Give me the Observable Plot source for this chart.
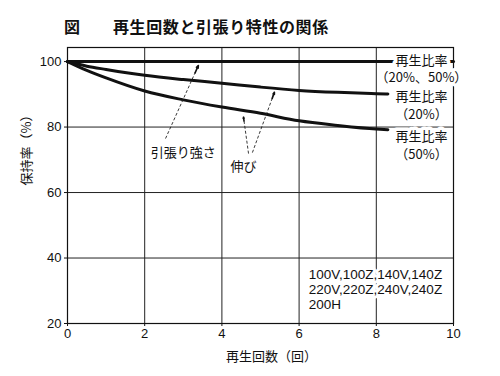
<!DOCTYPE html>
<html>
<head>
<meta charset="utf-8">
<script src="https://cdn.jsdelivr.net/npm/d3@7"></script>
<script src="https://cdn.jsdelivr.net/npm/@observablehq/plot@0.6"></script>
<style>
  html, body { margin: 0; padding: 0; background: #fff; }
  #wrap { position: relative; width: 500px; height: 376px; overflow: hidden; }
  #title { position: absolute; left: 0; top: 0; height: 40px; width: 500px;
           font-family: "Noto Sans CJK JP", sans-serif; font-weight: bold; font-size: 16px; color: #111; }
  #title .fig { position: absolute; left: 64px; top: 14px; }
  #title .txt { position: absolute; left: 113px; top: 14px; letter-spacing: 0.6px; }
  #chart { position: absolute; left: 0; top: 40px; }
</style>
</head>
<body>
<div id="wrap">
  <div id="title"><span class="fig">図</span><span class="txt">再生回数と引張り特性の関係</span></div>
  <div id="chart"></div>
</div>
<script>
// ---- data ----
const cycles   = [0, 0.5, 1, 2, 3, 4, 5, 6, 7, 8, 8.3];
const elong20  = [100, 98.6, 97.6, 95.8, 94.5, 93.4, 92.2, 91.2, 90.6, 90.2, 90.1];
const elong50  = [100, 97.3, 95.0, 91.0, 88.3, 86.1, 84.2, 81.9, 80.5, 79.4, 79.2];
const tensileX = [0, 10];
const tensileY = [100, 100];
const xTicks = [0, 2, 4, 6, 8, 10];
const yTicks = [20, 40, 60, 80, 100];

const seriesLabels = [
  {x: 9.17, y: 100.3, text: "再生比率"},
  {x: 9.17, y: 94.9, text: "（20%、50%）"},
  {x: 9.17, y: 89.2, text: "再生比率"},
  {x: 9.17, y: 83.8, text: "（20%）"},
  {x: 9.17, y: 77.0, text: "再生比率"},
  {x: 9.17, y: 71.5, text: "（50%）"}
];
const annotations = [
  {x: 3.0, y: 72.2, text: "引張り強さ"},
  {x: 4.56, y: 68.0, text: "伸び"}
];
const arrows = [
  {x1: 2.54, y1: 76.5, x2: 3.39, y2: 98.8},
  {x1: 4.69, y1: 71.9, x2: 4.56, y2: 83.0},
  {x1: 4.79, y1: 72.2, x2: 5.36, y2: 90.6}
];
const modelLines = [
  {x: 6.25, y: 34.8, text: "100V,100Z,140V,140Z"},
  {x: 6.25, y: 30.2, text: "220V,220Z,240V,240Z"},
  {x: 6.25, y: 25.6, text: "200H"}
];

const tensile = tensileX.map((x, i) => ({x, y: tensileY[i]}));
const e20 = cycles.map((x, i) => ({x, y: elong20[i]}));
const e50 = cycles.map((x, i) => ({x, y: elong50[i]}));
// short solid tip of each arrow, so the head is drawn solid
const tips = arrows.map(a => ({
  x1: a.x1 + (a.x2 - a.x1) * 0.9, y1: a.y1 + (a.y2 - a.y1) * 0.9, x2: a.x2, y2: a.y2
}));

const jp = "'Noto Sans CJK JP', sans-serif";

const chart = Plot.plot({
  width: 500,
  height: 336,
  marginLeft: 67,
  marginRight: 47,
  marginTop: 7,
  marginBottom: 53,
  style: {fontFamily: "'Liberation Sans', 'Noto Sans CJK JP', sans-serif", fontSize: "13px", color: "#111", background: "#fff"},
  x: {domain: [0, 10]},
  y: {domain: [20, 104.3]},
  marks: [
    Plot.gridX([2, 4, 6, 8], {stroke: "#222", strokeOpacity: 1, strokeWidth: 1}),
    Plot.gridY([40, 60, 80], {stroke: "#222", strokeOpacity: 1, strokeWidth: 1}),
    Plot.frame({stroke: "#111", strokeWidth: 1.2}),
    Plot.axisX(xTicks, {tickSize: 3, tickPadding: 2, label: null, fontSize: 13}),
    Plot.axisY(yTicks, {tickSize: 3, tickPadding: 3, label: null, fontSize: 13}),
    Plot.text(["再生回数（回）"], {frameAnchor: "bottom", lineAnchor: "middle", dy: 33, dx: 11, fontSize: 13, fill: "#111", fontFamily: jp}),
    Plot.text(["保持率（%）"], {frameAnchor: "left", dx: -41, rotate: -90, fontSize: 13, fill: "#111", fontFamily: jp}),
    Plot.line(tensile, {x: "x", y: "y", stroke: "#111", strokeWidth: 3}),
    Plot.line(e20, {x: "x", y: "y", stroke: "#111", strokeWidth: 3, curve: "monotone-x"}),
    Plot.line(e50, {x: "x", y: "y", stroke: "#111", strokeWidth: 3, curve: "monotone-x"}),
    Plot.link(arrows, {x1: "x1", y1: "y1", x2: "x2", y2: "y2", stroke: "#222", strokeWidth: 0.9, strokeDasharray: "3,2"}),
    Plot.arrow(tips, {x1: "x1", y1: "y1", x2: "x2", y2: "y2", stroke: "#111", strokeWidth: 1.6, headLength: 6, headAngle: 40}),
    Plot.text(annotations, {x: "x", y: "y", text: "text", fontSize: 13, fill: "#111", fontFamily: jp}),
    Plot.text(seriesLabels, {x: "x", y: "y", text: "text", fontSize: 13, fill: "#111",
      stroke: "#fff", strokeWidth: 7, fontFamily: jp}),
    Plot.text(modelLines, {x: "x", y: "y", text: "text", textAnchor: "start",
      fontSize: 13.5, fill: "#111", stroke: "#fff", strokeWidth: 6})
  ]
});
document.getElementById("chart").appendChild(chart);
</script>
</body>
</html>
